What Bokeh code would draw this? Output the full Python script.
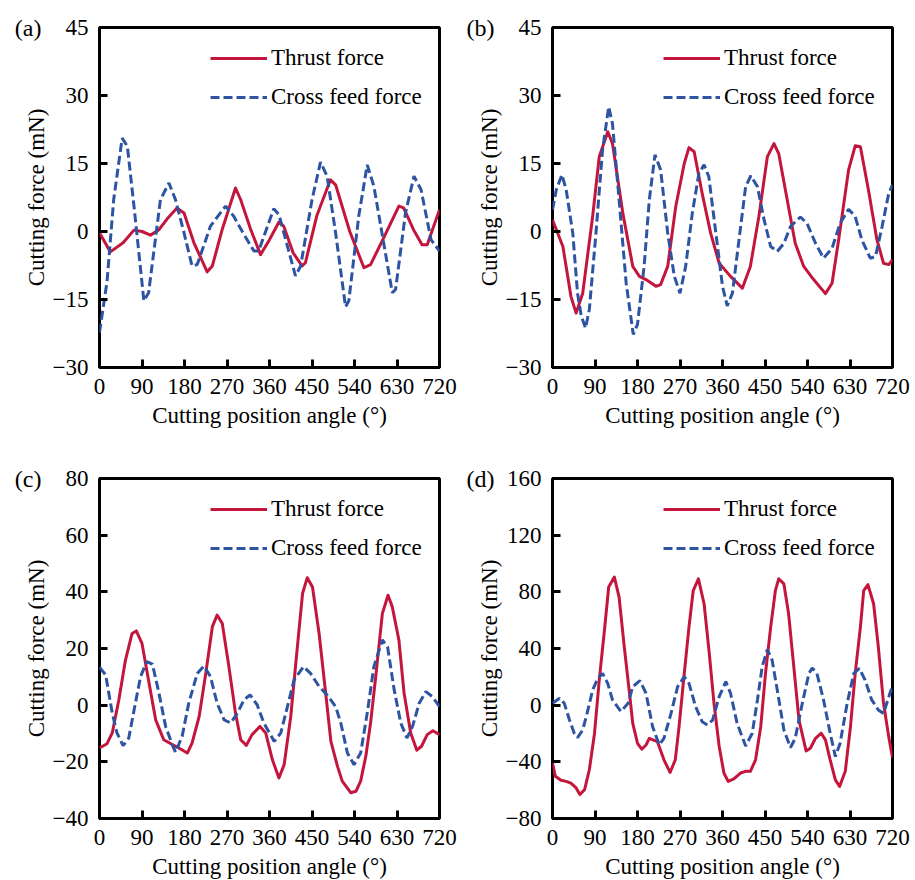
from bokeh.plotting import figure
from bokeh.layouts import gridplot
from bokeh.models import (Legend, LegendItem, FixedTicker, LinearAxis,
                          CustomJSTickFormatter, Range1d)
from bokeh.embed import file_html
from bokeh.resources import INLINE

FONT = '"Liberation Serif"'
RED = "#C4163C"
BLUE = "#2D54A3"

# ---------------- data ----------------
angle_ticks = [0, 90, 180, 270, 360, 450, 540, 630, 720]
ab_force_ticks = [-30, -15, 0, 15, 30, 45]
c_force_ticks = [-40, -20, 0, 20, 40, 60, 80]
d_force_ticks = [-80, -40, 0, 40, 80, 120, 160]

# (a)
a_thrust_deg = [0, 23, 50, 73, 90, 108, 126, 145, 164, 179, 200, 228, 239, 260, 288, 299, 320, 341, 360, 380,
                390, 410, 429, 436, 460, 489, 500, 530, 560, 574, 600, 634, 644, 665, 683, 694, 720]
a_thrust_mN = [-0.3, -4.5, -2.5, 0.3, 0.0, -0.8, 0.4, 3.0, 5.2, 4.1, -2.5, -8.9, -7.6, 0.5, 9.6, 7.0, 0.5, -5.1, -1.8, 2.1,
               1.2, -4.7, -7.6, -6.9, 3.4, 11.4, 10.3, 0.0, -8.0, -7.3, -1.8, 5.6, 5.2, 0.4, -2.9, -2.9, 4.8]
a_cross_deg = [0, 16, 30, 48, 59, 73, 94, 104, 129, 147, 161, 179, 196, 207, 235, 267, 284, 305, 327, 337,
               369, 380, 415, 426, 450, 468, 482, 500, 521, 528, 549, 567, 581, 620, 627, 648, 666, 681, 702, 720]
a_cross_mN = [-22.3, -11, 7, 20.6, 18.8, 5.6, -15.3, -13.5, 7, 10.7, 7, -0.3, -7.6, -7.3, 1.2, 5.6, 3.4, -0.5, -4.3, -4.3,
              5.0, 3.7, -9.8, -7.6, 7, 15.3, 12.2, -0.3, -16.6, -15.3, 3.4, 14.7, 10, -13.5, -12.8, 4.1, 12.2, 9.2, -1.8, -4.3]

# (b)
b_thrust_deg = [0, 22, 39, 50, 64, 85, 99, 117, 127, 149, 170, 184, 198, 219, 229, 244, 261, 279, 289, 300,
                317, 335, 353, 377, 402, 419, 437, 455, 469, 479, 497, 514, 532, 553, 578, 592, 606, 627, 641, 652,
                669, 687, 701, 712, 720]
b_thrust_mN = [2.6, -3.3, -14.3, -18, -13.6, 3.3, 16.5, 22, 19.4, 4, -7.7, -9.9, -10.6, -12.1, -11.7, -7.7, 5.5, 15, 18.5, 17.6,
               8.4, -0.4, -7, -9.9, -12.5, -7.7, 3.3, 16.5, 19.4, 17.2, 7, -2.6, -7.7, -10.6, -13.7, -11.4, -1.8, 13.6, 18.9, 18.7,
               9.2, -1.8, -7, -7.3, -6.2]
b_cross_deg = [0, 8, 20, 29, 43, 53, 61, 70, 78, 92, 106, 119, 127, 141, 156, 171, 180, 194, 205, 217,
               229, 244, 258, 270, 282, 296, 310, 321, 331, 346, 360, 370, 381, 395, 409, 420, 434, 448, 462, 476,
               490, 504, 525, 539, 557, 574, 592, 609, 627, 641, 655, 673, 684, 698, 712, 720]
b_cross_mN = [4.8, 9.2, 12.5, 9.2, -0.4, -13.6, -18.7, -21.3, -17.2, -0.4, 18, 27.5, 23.8, 7, -11.4, -22.7, -20.5, -7.7, 7, 16.9,
              13.6, -0.4, -9.9, -13.6, -7.7, 4, 12.8, 14.7, 12.1, -0.4, -12.1, -16.4, -13.6, -1.8, 9.9, 12.3, 9.9, 2.6, -3.3, -4.4,
              -2.6, 1.1, 3.2, 1.8, -2.6, -5.9, -3.7, 1.8, 4.9, 3.3, -1.8, -5.9, -5.5, 1.1, 8.4, 10.3]

# (c)
c_thrust_deg = [0, 16, 27, 41, 55, 69, 78, 90, 105, 119, 136, 154, 168, 186, 196, 211, 225, 239, 249, 260,
                274, 288, 299, 311, 323, 340, 352, 366, 380, 391, 405, 419, 430, 440, 451, 465, 479, 490, 504, 514,
                532, 543, 553, 564, 574, 585, 599, 611, 620, 634, 645, 659, 672, 682, 694, 706, 720]
c_thrust_mN = [-15.1, -13.6, -9.8, 1.9, 15.9, 25.3, 26.2, 21.8, 7.7, -5.2, -12.2, -13.9, -15.1, -16.9, -13.4, -4, 11.2, 27.7, 31.8, 28.8,
               13.6, -2.8, -12.2, -14.2, -10.4, -7.5, -9.8, -19.2, -25.7, -21, -4, 20.6, 39.4, 45, 41.7, 25.3, 4.2, -12.8, -21.6, -26.8,
               -30.9, -30.4, -26.8, -18, -6.3, 10.1, 32.3, 38.8, 34.7, 23, 4.2, -9.8, -15.9, -14.5, -10.4, -9, -10.4]
c_cross_deg = [0, 13, 27, 37, 50, 62, 76, 87, 100, 112, 126, 140, 154, 161, 175, 189, 207, 221, 235, 249,
               264, 278, 292, 306, 319, 334, 348, 370, 384, 398, 412, 432, 447, 465, 482, 500, 511, 525, 539, 553,
               567, 581, 599, 610, 624, 638, 651, 663, 677, 691, 705, 720]
c_cross_mN = [13.4, 10.7, -2.8, -9.8, -14.3, -11.6, 0.7, 10.1, 15.4, 14.5, 4.2, -7.5, -13.9, -16.6, -11, 0.7, 11.2, 13.8, 10.1, 0.7,
              -5.2, -6.3, -2.8, 1.9, 3.6, 0.1, -6.3, -12.8, -9.8, -0.5, 8.9, 13.6, 11.2, 6.6, 3.6, -0.5, -6.3, -16.9, -21, -16.9,
              -2.8, 13.6, 23, 20.6, 5.4, -6.3, -11.6, -7.5, 0.7, 4.8, 3, -0.5]

# (d)
d_thrust_deg = [0, 6, 18, 29, 39, 50, 58, 68, 78, 89, 99, 110, 119, 131, 141, 152, 163, 170, 180, 189,
                198, 205, 222, 236, 249, 260, 268, 279, 289, 298, 309, 321, 332, 342, 353, 363, 372, 384, 398, 409,
                419, 430, 441, 451, 462, 472, 479, 490, 500, 511, 522, 537, 546, 557, 569, 578, 588, 599, 608, 620,
                631, 641, 652, 659, 668, 680, 690, 701, 712, 720]
d_thrust_mN = [-40.8, -50.2, -53, -53.8, -55, -58.4, -63.1, -59.6, -45.6, -19.8, 17.7, 52.9, 83.4, 90.4, 76.3, 41.2, 8.4, -12.8, -26.9, -31.1,
               -28.1, -23.4, -25.7, -38.6, -47.5, -38.6, -15.2, 22.3, 55.1, 80.9, 89.2, 71.6, 36.5, 1.3, -29.2, -47.9, -53.8, -52.1, -47.9, -46.7,
               -46.7, -38.6, -15.2, 22.3, 55.1, 80.9, 89.2, 85.6, 64.5, 27, -10.5, -32.3, -30.4, -23.4, -19.8, -24.5, -38.6, -52.7, -57.4, -46.7,
               -15.2, 22.3, 55.1, 80.9, 85.1, 71.6, 41.2, 1.3, -22.2, -37]
d_cross_deg = [0, 15, 25, 36, 46, 53, 64, 75, 85, 96, 106, 117, 127, 145, 160, 170, 185, 198, 212, 226,
               236, 251, 265, 279, 289, 303, 317, 328, 339, 353, 367, 377, 391, 409, 423, 434, 444, 455, 465, 476,
               490, 504, 514, 529, 543, 550, 560, 574, 588, 599, 609, 624, 638, 650, 662, 676, 690, 701, 710, 720]
d_cross_mN = [1.3, 4.9, 1.3, -10.5, -19.8, -22.9, -17.5, -3.4, 10.7, 18.9, 22.4, 15.4, 3.7, -4.5, 1.3, 13.1, 17.3, 8.4, -15.2, -28.1,
              -23.4, -5.8, 13.1, 20.1, 15.4, -1, -11.7, -14, -10.5, 6, 16.6, 8.4, -12.9, -28.8, -19.8, 3.7, 27.1, 39.3, 31.8, 10.7,
              -17.5, -30, -23.4, 1.3, 22.4, 26.3, 22.4, 3.7, -19.8, -36.3, -27, 1.3, 22.4, 25.9, 17.7, 3.7, -3.4, -5.8, 3.7, 14]

panel_tags = ["(a)", "(b)", "(c)", "(d)"]
series_names = ["Thrust force", "Cross feed force"]
x_title = "Cutting position angle (\u00b0)"
y_title = "Cutting force (mN)"

FRAME = 340

minus_fmt = CustomJSTickFormatter(code="return tick < 0 ? '\\u2212' + Math.abs(tick) : String(tick);")


def style_text(ax, size="23px"):
    ax.major_label_text_font = FONT
    ax.major_label_text_font_size = size
    ax.major_label_text_color = "black"
    ax.axis_label_text_font = FONT
    ax.axis_label_text_font_size = "23px"
    ax.axis_label_text_font_style = "normal"
    ax.axis_label_text_color = "black"


def make_panel(tag, yticks, tx, ty, cx, cy, left, right, top, bottom):
    x0, x1 = angle_ticks[0], angle_ticks[-1]
    y0, y1 = yticks[0], yticks[-1]
    p = figure(frame_width=FRAME, frame_height=FRAME,
               min_border_left=left, min_border_right=right,
               min_border_top=top, min_border_bottom=bottom,
               x_range=Range1d(x0, x1), y_range=Range1d(y0, y1),
               output_backend="svg", toolbar_location=None, tools="")
    p.background_fill_color = "white"
    p.border_fill_color = "white"
    p.outline_line_color = "black"
    p.outline_line_width = 3
    p.xgrid.visible = False
    p.ygrid.visible = False

    p.xaxis.ticker = FixedTicker(ticks=angle_ticks)
    p.yaxis.ticker = FixedTicker(ticks=yticks)
    p.yaxis.formatter = minus_fmt
    for ax in (p.xaxis[0], p.yaxis[0]):
        ax.axis_line_color = None
        ax.major_tick_in = 8
        ax.major_tick_out = 0
        ax.major_tick_line_width = 3
        ax.major_tick_line_color = "black"
        ax.minor_tick_line_color = None
        style_text(ax)
    p.xaxis.axis_label = x_title
    p.yaxis.axis_label = y_title
    p.xaxis.major_label_standoff = 11
    p.xaxis.axis_label_standoff = 6
    p.yaxis.major_label_standoff = 11
    p.yaxis.axis_label_standoff = 1

    # panel tag drawn as the single label of an extra, line-less left axis
    p.extra_y_ranges = {"tag": Range1d(0, FRAME)}
    tag_axis = LinearAxis(y_range_name="tag",
                          ticker=FixedTicker(ticks=[FRAME]),
                          formatter=CustomJSTickFormatter(code="return '%s';" % tag),
                          axis_line_color=None, major_tick_line_color=None,
                          minor_tick_line_color=None,
                          major_label_standoff=-27)
    style_text(tag_axis, "24px")
    p.add_layout(tag_axis, "left")

    r1 = p.line(tx, ty, line_color=RED, line_width=3, line_join="round")
    r2 = p.line(cx, cy, line_color=BLUE, line_width=3, line_dash="9 4")

    legend = Legend(items=[LegendItem(label=series_names[0], renderers=[r1]),
                           LegendItem(label=series_names[1], renderers=[r2])],
                    location=(111, 257), glyph_width=57, glyph_height=26,
                    label_height=26, spacing=13, padding=0, margin=0,
                    label_standoff=4, border_line_color=None,
                    background_fill_alpha=0,
                    label_text_font=FONT, label_text_font_size="23px",
                    label_text_color="black")
    p.add_layout(legend)
    return p


pa = make_panel(panel_tags[0], ab_force_ticks, a_thrust_deg, a_thrust_mN, a_cross_deg, a_cross_mN, 99, 22, 27, 92)
pb = make_panel(panel_tags[1], ab_force_ticks, b_thrust_deg, b_thrust_mN, b_cross_deg, b_cross_mN, 91, 22, 27, 92)
pc = make_panel(panel_tags[2], c_force_ticks, c_thrust_deg, c_thrust_mN, c_cross_deg, c_cross_mN, 99, 22, 19, 61)
pd = make_panel(panel_tags[3], d_force_ticks, d_thrust_deg, d_thrust_mN, d_cross_deg, d_cross_mN, 91, 22, 19, 61)

grid = gridplot([[pa, pb], [pc, pd]], toolbar_location=None)

open("out.html", "w").write(file_html(grid, INLINE))
